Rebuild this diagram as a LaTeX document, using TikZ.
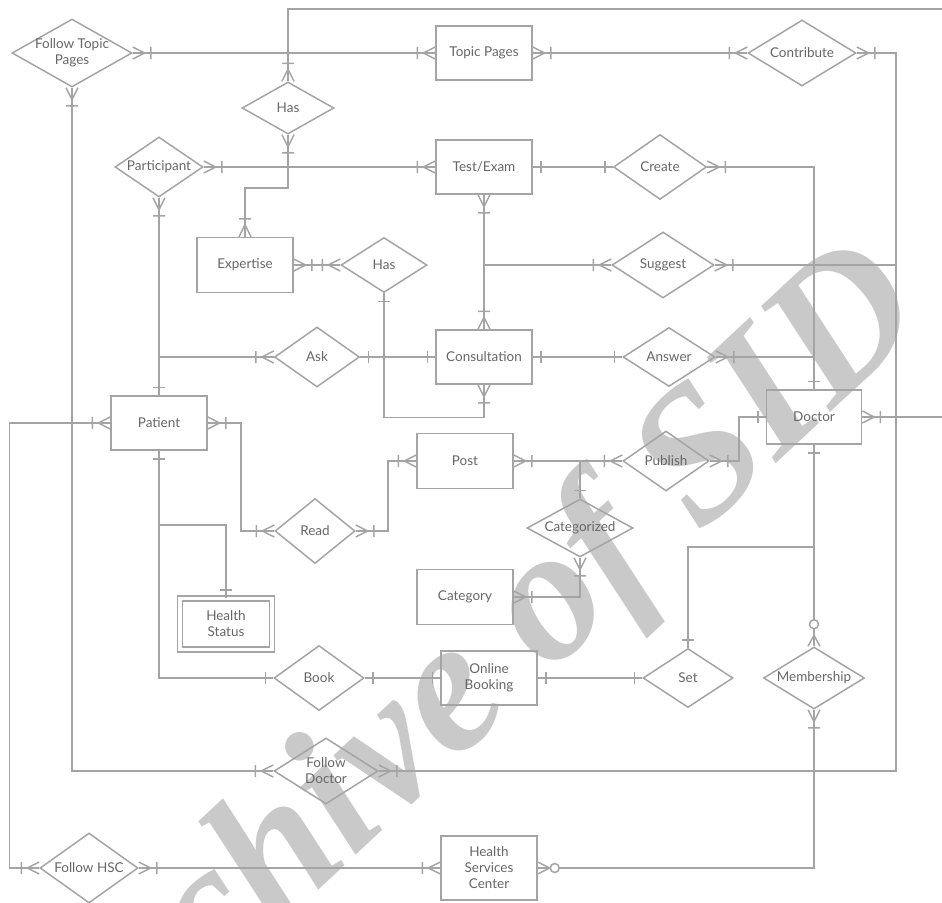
\documentclass[tikz,border=0pt]{standalone}
\usepackage{fontspec}
\setmainfont{Lato}
\newfontfamily\wmfont{Liberation Serif}
\usetikzlibrary{shapes.geometric,calc}
\definecolor{ln}{HTML}{A4A4A4}
\definecolor{tx}{HTML}{666666}
\definecolor{wm}{HTML}{C9C9C9}
\tikzset{
  conn/.style={draw=ln, line width=1.5pt},
  lblfont/.style={text=tx, font=\fontsize{13.5}{16}\selectfont, align=center},
  ent/.style={draw=ln, line width=1.5pt, rectangle, minimum width=96pt, minimum height=54pt, inner sep=0pt, lblfont},
  rel/.style={draw=ln, line width=1.5pt, diamond, inner sep=0pt},
  every label/.style={lblfont, inner sep=0pt},
  one/.pic={\draw[conn] (8,-6) -- (8,6);},
  onemany/.pic={\draw[conn] (0,-6) -- (12,0) -- (0,6) (18,-6) -- (18,6);},
  zeromany/.pic={\draw[conn] (0,-6) -- (12,0) -- (0,6); \draw[conn, fill=white] (17,0) circle (4.5);},
  zeromanyfar/.pic={\draw[conn] (0,-6) -- (11,0) -- (0,6); \draw[conn, fill=white] (22,0) circle (4.5);}
}
\begin{document}
\begin{tikzpicture}[x=1pt,y=-1pt]
\useasboundingbox (0,0) rectangle (942,902);
% watermark
\node[rotate=43, anchor=base east, text=wm, font=\wmfont\bfseries\itshape\fontsize{190}{190}\selectfont, inner sep=0pt] (wmark) at (932,318) {Archive of SID};

% entities
\node[ent] (tp) at (484,53) {Topic Pages};
\node[ent] (te) at (484,167) {Test/Exam};
\node[ent, minimum height=55pt] (exp) at (245,265) {Expertise};
\node[ent] (cons) at (484,357) {Consultation};
\node[ent, minimum width=95pt] (doc) at (814,417) {Doctor};
\node[ent] (pat) at (159,423) {Patient};
\node[ent, minimum height=55pt] (post) at (465,461) {Post};
\node[ent, minimum height=55pt] (cat) at (465,597) {Category};
\node[ent, double, double distance=3.5pt, minimum width=92pt, minimum height=51pt] (hs) at (226,624) {Health\\Status};
\node[ent] (ob) at (489,678) {Online\\Booking};
\node[ent, minimum height=64pt] (hsc) at (489,868) {Health\\Services\\Center};

% relationships
\node[rel, minimum width=120pt, minimum height=68pt, label={center:Follow Topic\\Pages}] (ftp) at (72,53) {};
\node[rel, minimum width=108pt, minimum height=66pt, label={center:Contribute}] (contr) at (802,53) {};
\node[rel, minimum width=92pt, minimum height=52pt, label={center:Has}] (has1) at (288,108) {};
\node[rel, minimum width=88pt, minimum height=60pt, label={center:Participant}] (part) at (159,167) {};
\node[rel, minimum width=93pt, minimum height=65pt, label={center:Create}] (crt) at (660,167) {};
\node[rel, minimum width=86pt, minimum height=55pt, label={center:Has}] (has2) at (384,265) {};
\node[rel, minimum width=102pt, minimum height=66pt, label={center:Suggest}] (sug) at (663,265) {};
\node[rel, minimum width=85pt, minimum height=60pt, label={center:Ask}] (ask) at (317,357) {};
\node[rel, minimum width=92pt, minimum height=59pt, label={center:Answer}] (ans) at (669,357) {};
\node[rel, minimum width=86pt, minimum height=60pt, label={center:Publish}] (pub) at (666,461) {};
\node[rel, minimum width=80pt, minimum height=65pt, label={center:Read}] (read) at (315,531) {};
\node[rel, minimum width=106pt, minimum height=58pt, label={center:Categorized}] (catz) at (580,528) {};
\node[rel, minimum width=90pt, minimum height=65pt, label={center:Book}] (book) at (319,678) {};
\node[rel, minimum width=90pt, minimum height=59pt, label={center:Set}] (set) at (688,678) {};
\node[rel, minimum width=101pt, minimum height=62pt, label={center:Membership}] (memb) at (814,678) {};
\node[rel, minimum width=104pt, minimum height=66pt, label={center:Follow\\Doctor}] (fdoc) at (326,771) {};
\node[rel, minimum width=98pt, minimum height=70pt, label={center:Follow HSC}] (fhsc) at (89,868) {};

% free ends
\coordinate (rbus) at (896,771);
\coordinate (topR) at (942,9);
\coordinate (docR) at (942,417);

% connectors
\draw[conn] (ftp.east) -- (tp.west);
\pic at (ftp.east) {onemany}; \pic[rotate=180] at (tp.west) {onemany};

\draw[conn] (tp.east) -- (contr.west);
\pic at (tp.east) {onemany}; \pic[rotate=180] at (contr.west) {onemany};

\draw[conn] (contr.east) -| (rbus) -- (fdoc.east);
\pic at (contr.east) {onemany}; \pic at (fdoc.east) {onemany};

\draw[conn] (has1.north) |- (topR);
\pic[rotate=90] at (has1.north) {onemany};

\draw[conn] (has1.south) -- ++(0,53) -| (exp.north);
\pic[rotate=-90] at (has1.south) {onemany}; \pic[rotate=90] at (exp.north) {onemany};

\draw[conn] (part.east) -- (te.west);
\pic at (part.east) {onemany}; \pic[rotate=180] at (te.west) {onemany};

\draw[conn] (part.south) -- (pat.north);
\pic[rotate=-90] at (part.south) {onemany}; \pic[rotate=90] at (pat.north) {one};

\draw[conn] (ask.west) -- (ask.west -| pat.north);
\pic[rotate=180] at (ask.west) {onemany};

\draw[conn] (te.east) -- (crt.west);
\pic at (te.east) {one}; \pic[rotate=180] at (crt.west) {one};

\draw[conn] (crt.east) -| (doc.north);
\pic at (crt.east) {onemany}; \pic[rotate=90] at (doc.north) {one};

\draw[conn] (ans.east) -- (ans.east -| doc.north);
\pic at (ans.east) {onemany};

\draw[conn] (te.south) -- (cons.north);
\pic[rotate=-90] at (te.south) {onemany}; \pic[rotate=90] at (cons.north) {onemany};

\draw[conn] (sug.west) -- (sug.west -| te.south);
\pic[rotate=180] at (sug.west) {onemany};
\draw[conn] (sug.east) -- (sug.east -| rbus);
\pic at (sug.east) {onemany};

\draw[conn] (has2.south) -- ++(0,124) -| (cons.south);
\pic[rotate=-90] at (has2.south) {one}; \pic[rotate=-90] at (cons.south) {onemany};

\draw[conn] (exp.east) -- (has2.west);
\pic at (exp.east) {onemany}; \pic[rotate=180] at (has2.west) {onemany};

\draw[conn] (ask.east) -- (cons.west);
\pic at (ask.east) {one}; \pic[rotate=180] at (cons.west) {one};

\draw[conn] (cons.east) -- (ans.west);
\pic at (cons.east) {one}; \pic[rotate=180] at (ans.west) {one};

\draw[conn] (pat.east) -- ++(33,0) |- (read.west);
\pic at (pat.east) {onemany}; \pic[rotate=180] at (read.west) {onemany};

\draw[conn] (read.east) -- ++(32,0) |- (post.west);
\pic at (read.east) {onemany}; \pic[rotate=180] at (post.west) {onemany};

\draw[conn] (post.east) -- (pub.west);
\pic at (post.east) {onemany}; \pic[rotate=180] at (pub.west) {onemany};

\draw[conn] (catz.north) -- (catz.north |- post.east);
\pic[rotate=90] at (catz.north) {one};

\draw[conn] (pub.east) -- ++(29,0) |- (doc.west);
\pic at (pub.east) {onemany}; \pic[rotate=180] at (doc.west) {one};

\draw[conn] (catz.south) |- (cat.east);
\pic[rotate=-90] at (catz.south) {onemany}; \pic at (cat.east) {onemany};

\draw[conn] (pat.south) |- (book.west);
\pic[rotate=-90] at (pat.south) {one}; \pic[rotate=180] at (book.west) {one};

\draw[conn] (hs.north) |- ($(pat.south)+(0,74)$);
\pic[rotate=90] at (hs.north) {one};

\draw[conn] (book.east) -- (ob.west);
\pic at (book.east) {one}; \pic[rotate=180] at (ob.west) {one};

\draw[conn] (ob.east) -- (set.west);
\pic at (ob.east) {one}; \pic[rotate=180] at (set.west) {one};

\draw[conn] (set.north) |- ($(doc.south)+(0,102)$);
\pic[rotate=90] at (set.north) {one};

\draw[conn] (doc.south) -- (memb.north);
\pic[rotate=-90] at (doc.south) {one}; \pic[rotate=90] at (memb.north) {zeromanyfar};

\draw[conn] (memb.south) |- (hsc.east);
\pic[rotate=-90] at (memb.south) {onemany}; \pic at (hsc.east) {zeromany};

\draw[conn] (fdoc.west) -| (ftp.south);
\pic[rotate=180] at (fdoc.west) {onemany}; \pic[rotate=-90] at (ftp.south) {onemany};

\draw[conn] (fhsc.east) -- (hsc.west);
\pic at (fhsc.east) {onemany}; \pic[rotate=180] at (hsc.west) {onemany};

\draw[conn] (fhsc.west) -- ++(-30,0) |- (pat.west);
\pic[rotate=180] at (fhsc.west) {onemany}; \pic[rotate=180] at (pat.west) {onemany};

\draw[conn] (doc.east) -- (docR);
\pic at (doc.east) {onemany};
\end{tikzpicture}
\end{document}
